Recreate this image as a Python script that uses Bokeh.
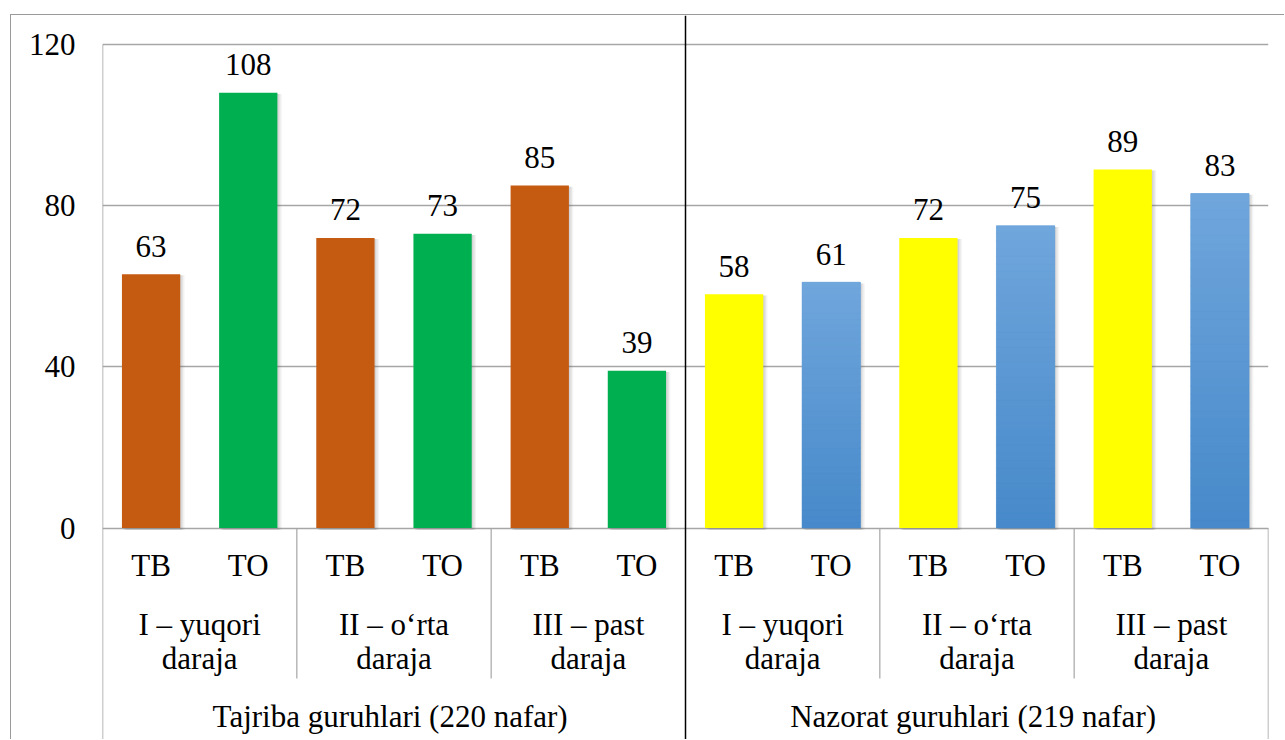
from bokeh.plotting import figure
from bokeh.models import FactorRange, Range1d, FixedTicker, ColumnDataSource
from bokeh.embed import file_html
from bokeh.resources import INLINE
from bokeh.core.properties import value

# ---------------- data ----------------
groups = ["Tajriba  guruhlari (220 nafar)", "Nazorat  guruhlari (219 nafar)"]
levels = ["I – yuqori daraja", "II – o‘rta daraja", "III – past daraja"]
kinds = ["TB", "TO"]
tajriba_tb = [63, 72, 85]
tajriba_to = [108, 73, 39]
nazorat_tb = [58, 72, 89]
nazorat_to = [61, 75, 83]
y_ticks = [0, 40, 80, 120]

series = {
    (groups[0], "TB"): tajriba_tb,
    (groups[0], "TO"): tajriba_to,
    (groups[1], "TB"): nazorat_tb,
    (groups[1], "TO"): nazorat_to,
}
colors = {
    (groups[0], "TB"): "#C55A11",
    (groups[0], "TO"): "#00B050",
    (groups[1], "TB"): "#FFFF00",
    (groups[1], "TO"): None,  # gradient blue
}
BLUE_BOTTOM = (70, 137, 202)
BLUE_TOP = (112, 166, 220)

FONT_NAME = "'Liberation Serif'"
FONT = value(FONT_NAME)
FSIZE = value("31px")

# ---------------- layout helpers ----------------
W, H = 1274, 725
PAGE_TOP = 15          # page y of canvas top
Y0_PX, Y120_PX = 527.5, 44.0
PPU = (Y0_PX - Y120_PX) / 120.0
Y_TOP = 120 + (Y120_PX - PAGE_TOP) / PPU
Y_BOT = -((PAGE_TOP + H) - Y0_PX) / PPU
TXT_SHIFT = 11  # rendered baseline sits this many px below the anchor


def ypx(py):
    return (Y0_PX - py) / PPU


factors = [(g, l, k) for g in groups for l in levels for k in kinds]

p = figure(
    width=W, height=H,
    x_range=FactorRange(*factors, range_padding=0, factor_padding=0,
                        subgroup_padding=0, group_padding=0),
    y_range=Range1d(Y_BOT, Y_TOP),
    x_axis_location=None,
    output_backend="svg", toolbar_location=None,
    min_border_left=91, min_border_right=17,
    min_border_top=0, min_border_bottom=0,
)
p.styles = {"border-left": "1px solid #9a9a9a", "border-top": "1px solid #9a9a9a",
            "margin-left": "10px", "margin-top": "14px", "margin-bottom": "-6px"}
p.outline_line_color = None
p.background_fill_color = "white"
p.border_fill_color = "white"
p.xgrid.visible = False

p.yaxis.ticker = FixedTicker(ticks=y_ticks)
p.ygrid.ticker = FixedTicker(ticks=y_ticks)
p.ygrid.grid_line_color = "#a6a6a6"
p.ygrid.grid_line_width = 1.5
p.yaxis.axis_line_color = None
p.yaxis.major_tick_line_color = None
p.yaxis.minor_tick_line_color = None
p.yaxis.major_tick_out = 0
p.yaxis.major_tick_in = 0
p.yaxis.major_label_standoff = 27
p.yaxis.major_label_text_font = FONT_NAME
p.yaxis.major_label_text_font_size = "31px"
p.yaxis.major_label_text_color = "black"

# ---------------- bars ----------------
xs, tops, cols = [], [], []
gx, gb, gt, gc = [], [], [], []
NSEG = 40
for g in groups:
    for i, l in enumerate(levels):
        for k in kinds:
            v = series[(g, k)][i]
            c = colors[(g, k)]
            xs.append((g, l, k))
            tops.append(v)
            if c is None:
                for s in range(NSEG):
                    f = (s + 0.5) / NSEG
                    rgb = tuple(int(round(BLUE_BOTTOM[j] + (BLUE_TOP[j] - BLUE_BOTTOM[j]) * f)) for j in range(3))
                    gx.append((g, l, k))
                    gb.append(v * s / NSEG)
                    gt.append(v * (s + 1) / NSEG)
                    gc.append("#%02x%02x%02x" % rgb)
                cols.append("#5b9bd5")
            else:
                cols.append(c)

# soft shadow
for off, alpha in ((0.045, 0.07), (0.03, 0.10), (0.015, 0.12)):
    p.vbar(x=[(a, b, c, off) for (a, b, c) in xs], top=[t - 0.3 for t in tops],
           bottom=-0.5, width=0.6, fill_color="#606060", fill_alpha=alpha, line_color=None)

solid = ColumnDataSource(dict(x=xs, top=tops, color=cols))
p.vbar(x="x", top="top", width=0.6, source=solid, fill_color="color", line_color=None)
grad = ColumnDataSource(dict(x=gx, bottom=gb, top=gt, color=gc))
p.vbar(x="x", bottom="bottom", top="top", width=0.6, source=grad,
       fill_color="color", line_color="color", line_width=0.6)

# value labels
p.text(x=xs, y=tops, text=[str(t) for t in tops], text_align="center",
       text_baseline="alphabetic", y_offset=-17 - TXT_SHIFT, text_font=FONT,
       text_font_size=FSIZE, text_color="black")

# ---------------- category labels ----------------
p.text(x=factors, y=[ypx(576 - TXT_SHIFT)] * len(factors), text=[f[2] for f in factors],
       text_align="center", text_baseline="alphabetic", text_font=FONT,
       text_font_size=FSIZE, text_color="black")
lv = [(g, l) for g in groups for l in levels]
line1 = [l.rsplit(" ", 1)[0] for (_, l) in lv]
line2 = [l.rsplit(" ", 1)[1] for (_, l) in lv]
p.text(x=lv, y=[ypx(635 - TXT_SHIFT)] * len(lv), text=line1, text_align="center",
       text_baseline="alphabetic", text_font=FONT, text_font_size=FSIZE, text_color="black")
p.text(x=lv, y=[ypx(669 - TXT_SHIFT)] * len(lv), text=line2, text_align="center",
       text_baseline="alphabetic", text_font=FONT, text_font_size=FSIZE, text_color="black")
p.text(x=groups, y=[ypx(727 - TXT_SHIFT)] * len(groups), text=groups, text_align="center",
       text_baseline="alphabetic", text_font=FONT, text_font_size=FSIZE, text_color="black")

# ---------------- separators ----------------
sep_x = [(g, levels[i], "TO", 0.5) for g in groups for i in range(2)]
p.segment(x0=sep_x, x1=sep_x, y0=0, y1=ypx(678), line_color="#a6a6a6", line_width=1.2)
left_x = [(groups[0], levels[0], "TB", -0.5)]
p.segment(x0=left_x, x1=left_x, y0=Y_BOT, y1=120, line_color="#a0a0a0", line_width=1.5)
right_x = [(groups[1], levels[2], "TO", 0.5)]
p.segment(x0=right_x, x1=right_x, y0=Y_BOT, y1=0, line_color="#a0a0a0", line_width=1.5)
mid_x = [(groups[0], levels[2], "TO", 0.5)]
p.segment(x0=mid_x, x1=mid_x, y0=Y_BOT, y1=Y_TOP, line_color="black", line_width=1.5)

open("out.html", "w").write(file_html(p, INLINE))
